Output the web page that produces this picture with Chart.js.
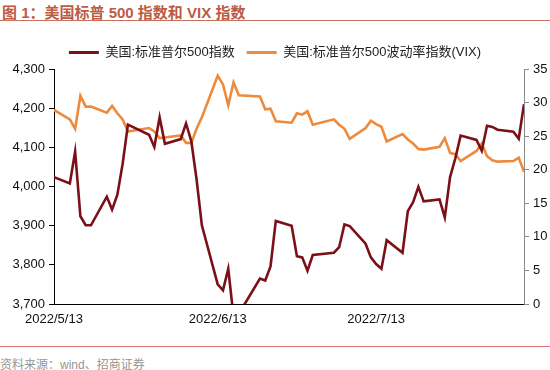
<!DOCTYPE html>
<html>
<head>
<meta charset="utf-8">
<script src="https://cdn.jsdelivr.net/npm/chart.js@4.4.0/dist/chart.umd.min.js"></script>
<style>
  body { margin:0; background:#fff; }
  #page { position:relative; width:550px; height:370px; overflow:hidden; font-family:'Liberation Sans','Noto Sans CJK SC',sans-serif; }
  #title { position:absolute; left:2px; top:1px; font-size:15px; font-weight:bold; color:#bd5a43; white-space:nowrap; }
  #rule1 { position:absolute; left:0; top:20px; width:550px; height:1px; background:#c7735f; }
  #box { position:absolute; left:0; top:22px; width:550px; height:318px; }
  #rule2 { position:absolute; left:0; top:346px; width:550px; height:1px; background:#e0706f; }
  #source { position:absolute; left:0; top:355px; font-size:12px; color:#959595; white-space:nowrap; }
</style>
</head>
<body>
<div id="page">
  <div id="title">图 1：美国标普 500 指数和 VIX 指数</div>
  <div id="rule1"></div>
  <div id="box"><canvas id="myChart"></canvas></div>
  <div id="rule2"></div>
  <div id="source">资料来源：wind、招商证券</div>
</div>
<script>
var dates = ['2022/5/13','2022/5/16','2022/5/17','2022/5/18','2022/5/19','2022/5/20',
  '2022/5/23','2022/5/24','2022/5/25','2022/5/26','2022/5/27','2022/5/31',
  '2022/6/1','2022/6/2','2022/6/3','2022/6/6','2022/6/7','2022/6/8','2022/6/9','2022/6/10',
  '2022/6/13','2022/6/14','2022/6/15','2022/6/16','2022/6/17','2022/6/21','2022/6/22','2022/6/23','2022/6/24',
  '2022/6/27','2022/6/28','2022/6/29','2022/6/30','2022/7/1','2022/7/5','2022/7/6','2022/7/7','2022/7/8',
  '2022/7/11','2022/7/12','2022/7/13','2022/7/14','2022/7/15','2022/7/18','2022/7/19','2022/7/20','2022/7/21','2022/7/22',
  '2022/7/25','2022/7/26','2022/7/27','2022/7/28','2022/7/29','2022/8/1','2022/8/2','2022/8/3','2022/8/4','2022/8/5',
  '2022/8/8','2022/8/9','2022/8/10'];

var spx = [4024,4008,4089,3924,3901,3901,
  3974,3941,3979,4058,4158,4132,
  4101,4177,4109,4121,4161,4116,4018,3901,
  3750,3735,3790,3667,3675,3765,3760,3796,3912,
  3900,3822,3819,3785,3825,3831,3845,3903,3899,
  3854,3819,3802,3790,3863,3831,3937,3960,3999,3962,
  3967,3921,4024,4072,4130,4119,4091,4155,4152,4145,
  4140,4122,4210];

var vix = [28.9,27.5,26.1,31.0,29.4,29.4,
  28.5,29.5,28.4,27.5,25.7,26.2,
  25.7,24.7,24.8,25.1,24.0,24.0,26.1,27.8,
  34.0,32.7,29.6,33.0,31.1,30.9,29.0,29.1,27.2,
  27.0,28.4,28.2,28.7,26.7,27.5,26.7,26.1,24.6,
  26.2,27.3,26.8,26.4,24.2,25.3,24.5,23.9,23.1,23.0,
  23.4,24.7,22.5,22.3,21.3,22.8,23.9,22.0,21.4,21.2,
  21.3,21.8,19.7];

var xTickLabels = ['2022/5/13','2022/6/13','2022/7/13'];
var seriesNames = ['美国:标准普尔500指数','美国:标准普尔500波动率指数(VIX)'];

function dayOf(s) {
    var p = s.split('/');
    return Math.round((Date.UTC(+p[0], +p[1]-1, +p[2]) - Date.UTC(2022,4,13)) / 86400000);
}
function labelOf(d) {
    var t = new Date(Date.UTC(2022,4,13) + d*86400000);
    return t.getUTCFullYear() + '/' + (t.getUTCMonth()+1) + '/' + t.getUTCDate();
}

var font = "'Liberation Sans','Noto Sans CJK SC',sans-serif";
Chart.defaults.font.family = font;
Chart.defaults.font.size = 13;
Chart.defaults.color = '#222';

var ctx = document.getElementById('myChart').getContext('2d');
window.myChart = new Chart(ctx, {
    type: 'line',
    data: {
        datasets: [{
            label: seriesNames[0],
            data: dates.map((d,i)=>({x: dayOf(d), y: spx[i]})),
            borderColor: '#7c1018',
            backgroundColor: '#7c1018',
            borderWidth: 2.6,
            pointRadius: 0,
            tension: 0,
            yAxisID: 'y'
        }, {
            label: seriesNames[1],
            data: dates.map((d,i)=>({x: dayOf(d), y: vix[i]})),
            borderColor: '#ee8a3c',
            backgroundColor: '#ee8a3c',
            borderWidth: 2.6,
            pointRadius: 0,
            tension: 0,
            yAxisID: 'y1'
        }]
    },
    options: {
        responsive: true,
        maintainAspectRatio: false,
        animation: false,
        layout: { padding: { top: 12, left: 0, right: 0, bottom: 0 } },
        plugins: {
            legend: {
                position: 'top',
                labels: {
                    boxWidth: 30,
                    boxHeight: 3,
                    padding: 12,
                    color: '#222',
                    font: { size: 13 },
                    generateLabels: function(chart) {
                        return Chart.defaults.plugins.legend.labels.generateLabels(chart).map(function(l) {
                            l.lineWidth = 0;
                            return l;
                        });
                    }
                }
            },
            tooltip: { enabled: false }
        },
        scales: {
            x: {
                type: 'linear',
                min: 0,
                max: dayOf(dates[dates.length-1]),
                afterBuildTicks: function(scale) {
                    scale.ticks = xTickLabels.map(s=>({value: dayOf(s)}));
                },
                afterFit: function(scale) { scale.height = 36; },
                ticks: {
                    padding: 8,
                    maxRotation: 0,
                    autoSkip: false,
                    color: '#111',
                    callback: function(v) { return labelOf(v); }
                },
                grid: { display: true, drawOnChartArea: false, drawTicks: false },
                border: { display: true, color: '#000', width: 1 }
            },
            y: {
                position: 'left',
                min: 3700,
                max: 4300,
                afterFit: function(scale) { scale.width = 54; },
                ticks: {
                    stepSize: 100,
                    padding: 4,
                    color: '#111',
                    callback: function(v) { return v.toLocaleString('en-US'); }
                },
                grid: { drawOnChartArea: false, drawTicks: true, tickLength: 5, color: '#000' },
                border: { display: true, color: '#000', width: 1 }
            },
            y1: {
                position: 'right',
                min: 0,
                max: 35,
                afterFit: function(scale) { scale.width = 26; },
                ticks: { stepSize: 5, padding: 4, color: '#111' },
                grid: { drawOnChartArea: false, drawTicks: true, tickLength: 5, color: '#8a8a8a' },
                border: { display: true, color: '#8a8a8a', width: 1 }
            }
        }
    }
});
</script>
</body>
</html>
